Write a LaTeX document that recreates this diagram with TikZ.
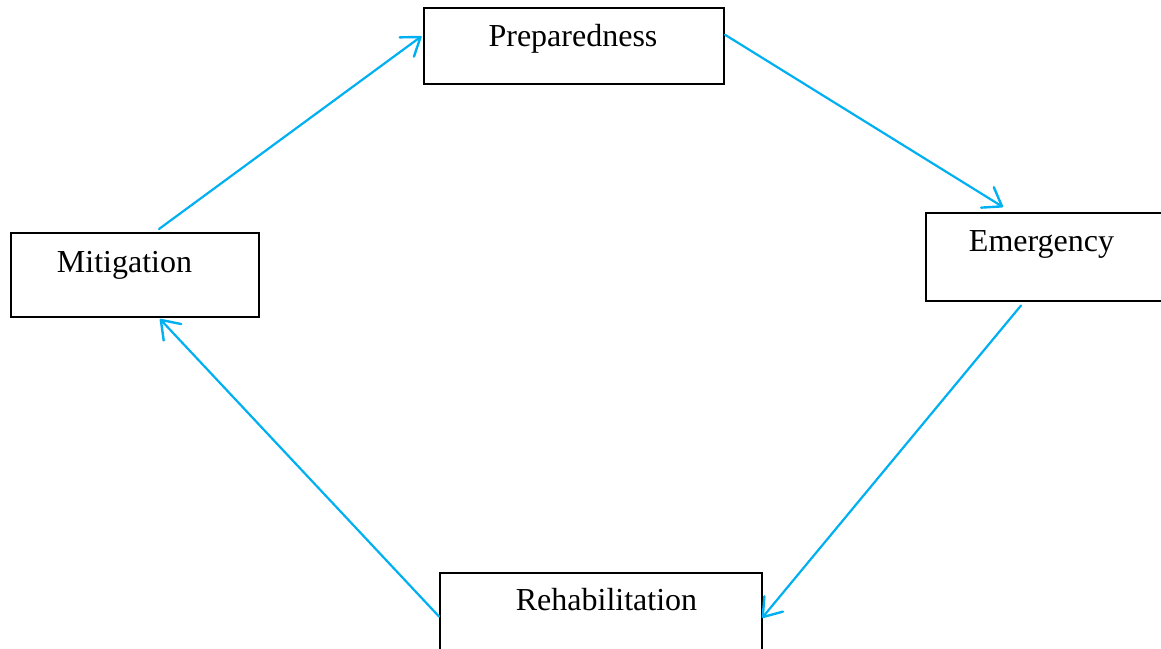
\documentclass[tikz,border=0pt]{standalone}
\usepackage{fontspec}
\setmainfont{Liberation Serif}
\usetikzlibrary{arrows.meta,calc}
\definecolor{arrowblue}{HTML}{00B0F0}
\begin{document}
\begin{tikzpicture}[x=1pt,y=-1pt,
  box/.style={draw=black,line width=1.5pt,rectangle,inner sep=0pt,anchor=north west},
  lbl/.style={anchor=base,inner sep=0pt,font=\fontsize{32}{38}\selectfont},
  arr/.style={draw=arrowblue,line width=2.2pt,line cap=round,-{Straight Barb[length=17pt,width=24pt,line width=2.4pt,round]}}]
\useasboundingbox (0,0) rectangle (1161,648);
\clip (0,0) rectangle (1161,648);
% boxes
\node[box,minimum width=300pt,minimum height=76pt] (prep) at (423,7) {};
\node[box,minimum width=260pt,minimum height=88pt] (emer) at (925,212) {};
\node[box,minimum width=248pt,minimum height=84pt] (mit) at (10,232) {};
\node[box,minimum width=322pt,minimum height=100pt] (rehab) at (439,572) {};
% labels
\node[lbl] (tprep) at (573,46) {Preparedness};
\node[lbl] (temer) at (1041.5,251) {Emergency};
\node[lbl] (tmit) at (124.5,272) {Mitigation};
\node[lbl] (trehab) at (606.5,610) {Rehabilitation};
% arrows
\draw[arr] ($(mit.north west)+(149,-3)$) -- ($(prep.west)+(-1.5,-9.5)$);
\draw[arr] ($(prep.east)+(0.5,-11)$) -- ($(emer.north west)+(78,-5)$);
\draw[arr] ($(emer.south west)+(96,4)$) -- ($(rehab.north east)+(-0.5,46)$);
\draw[arr] ($(rehab.north west)+(0,44.5)$) -- ($(mit.south west)+(150,1.5)$);
\end{tikzpicture}
\end{document}
